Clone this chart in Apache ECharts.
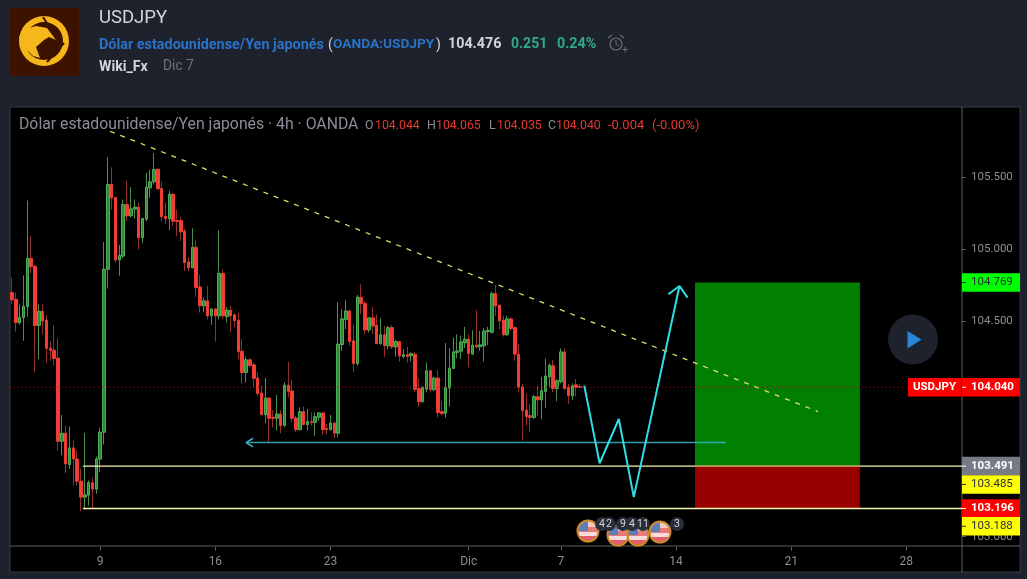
<!DOCTYPE html>
<html>
<head>
<meta charset="utf-8">
<title>USDJPY</title>
<script src="https://cdn.jsdelivr.net/npm/echarts@6/dist/echarts.min.js"></script>
<style>
  html, body { margin: 0; padding: 0; background: #1e222d; }
  #main { width: 1027px; height: 579px; }
</style>
</head>
<body>
<div id="main"></div>
<script>
// velas de 4h
var opens = [104.699,104.652,104.490,104.525,104.602,104.937,104.882,104.470,104.569,104.507,104.312,104.298,104.243,103.664,103.720,103.502,103.618,103.541,103.386,103.275,103.289,103.375,103.331,103.539,103.727,104.861,105.451,105.361,104.926,104.953,105.312,105.233,105.280,105.294,105.081,105.210,105.428,105.470,105.558,105.423,105.229,105.213,105.384,105.201,105.201,105.127,104.912,104.872,105.014,104.738,104.606,104.641,104.537,104.585,104.537,104.833,104.532,104.576,104.544,104.507,104.291,104.143,104.231,104.196,104.104,104.000,103.849,103.965,103.831,103.824,103.854,103.773,104.055,104.014,103.826,103.745,103.870,103.780,103.801,103.796,103.831,103.861,103.752,103.745,103.791,103.720,104.337,104.511,104.571,104.363,104.205,104.666,104.624,104.439,104.523,104.472,104.344,104.405,104.328,104.455,104.321,104.358,104.254,104.266,104.259,104.270,104.030,103.939,104.027,104.155,104.023,104.104,103.870,103.858,104.034,104.171,104.282,104.291,104.349,104.374,104.270,104.333,104.321,104.328,104.428,104.423,104.692,104.611,104.506,104.405,104.516,104.456,104.270,104.043,103.881,103.842,103.830,103.974,103.951,104.011,104.113,104.189,104.032,104.078,104.286,104.039,103.981,104.057,104.044];
var closes = [104.648,104.490,104.527,104.604,104.937,104.879,104.470,104.569,104.502,104.310,104.296,104.240,103.664,103.720,103.507,103.618,103.541,103.386,103.275,103.291,103.377,103.331,103.541,103.727,104.861,105.451,105.358,104.926,104.958,105.312,105.233,105.282,105.294,105.081,105.215,105.433,105.470,105.555,105.421,105.227,105.213,105.384,105.196,105.194,105.122,104.907,104.872,105.014,104.733,104.608,104.641,104.537,104.585,104.537,104.833,104.537,104.576,104.537,104.504,104.289,104.143,104.231,104.192,104.102,103.997,103.849,103.965,103.824,103.824,103.854,103.773,104.055,104.011,103.824,103.745,103.870,103.780,103.801,103.796,103.835,103.861,103.745,103.745,103.791,103.720,104.340,104.516,104.571,104.358,104.205,104.668,104.622,104.439,104.523,104.467,104.344,104.405,104.330,104.455,104.321,104.358,104.259,104.266,104.254,104.275,104.025,103.939,104.039,104.155,104.023,104.104,103.863,103.856,104.039,104.173,104.286,104.293,104.356,104.374,104.275,104.333,104.321,104.335,104.432,104.437,104.692,104.606,104.502,104.405,104.516,104.449,104.270,104.039,103.877,103.835,103.830,103.974,103.953,104.016,104.118,104.194,104.032,104.085,104.286,104.032,103.981,104.050,104.039,104.040];
var lows = [104.618,104.428,104.474,104.363,104.532,104.831,104.143,104.236,104.409,104.213,104.224,104.190,103.599,103.564,103.442,103.472,103.356,103.356,103.178,103.189,103.217,103.194,103.298,103.449,103.641,104.727,105.277,104.907,104.817,104.937,105.196,105.224,105.215,105.000,105.046,105.196,105.358,105.451,105.416,105.196,105.178,105.134,105.162,105.092,105.058,104.849,104.849,104.868,104.669,104.560,104.564,104.514,104.474,104.358,104.514,104.514,104.490,104.421,104.456,104.236,104.067,104.074,104.178,104.039,103.981,103.845,103.789,103.657,103.761,103.738,103.720,103.766,103.970,103.796,103.727,103.738,103.773,103.738,103.773,103.703,103.808,103.710,103.715,103.738,103.685,103.692,104.293,104.444,104.328,104.143,104.189,104.548,104.409,104.421,104.409,104.340,104.335,104.252,104.305,104.305,104.252,104.219,104.243,104.212,104.219,104.004,103.905,103.935,104.004,104.004,104.011,103.830,103.849,103.826,103.905,104.166,104.243,104.236,104.312,104.178,104.266,104.312,104.293,104.219,104.335,104.414,104.537,104.444,104.393,104.398,104.432,104.224,104.004,103.668,103.773,103.731,103.819,103.842,103.819,103.895,104.039,104.004,103.942,104.067,104.020,103.923,103.951,103.974,104.035];
var highs = [104.803,104.699,104.618,104.819,105.340,105.092,104.890,104.618,104.618,104.544,104.363,104.472,104.382,103.847,103.773,103.766,103.669,103.604,103.472,103.722,103.391,103.409,103.558,103.757,105.051,105.641,105.571,105.365,105.030,105.347,105.479,105.433,105.347,105.324,105.220,105.534,105.555,105.669,105.560,105.470,105.324,105.409,105.390,105.277,105.224,105.146,104.946,105.146,105.069,104.821,104.664,104.745,104.590,104.590,105.134,104.861,104.599,104.606,104.553,104.560,104.375,104.252,104.243,104.213,104.143,104.051,104.104,103.970,103.882,103.986,103.882,104.074,104.217,104.092,103.842,103.900,103.907,103.889,103.865,103.865,103.866,103.866,103.784,103.847,103.796,104.632,104.583,104.645,104.583,104.474,104.682,104.756,104.641,104.525,104.599,104.548,104.520,104.467,104.467,104.472,104.368,104.362,104.305,104.321,104.282,104.286,104.104,104.050,104.212,104.160,104.113,104.160,103.946,104.347,104.312,104.386,104.409,104.398,104.460,104.409,104.437,104.576,104.432,104.451,104.460,104.706,104.752,104.618,104.537,104.537,104.525,104.460,104.340,104.062,103.997,103.923,103.988,104.050,104.113,104.240,104.205,104.229,104.097,104.310,104.310,104.062,104.067,104.097,104.065];

// eje de tiempo (una franja por vela, festivos incluidos)
var slotCount = 248;
var tickSlots = [23, 53, 83, 119, 143, 173, 203, 233];
var tickTexts = ['9', '16', '23', 'Dic', '7', '14', '21', '28'];
var priceTicks = [103, 103.5, 104, 104.5, 105, 105.5];

// precios de la posicion larga
var lastPrice = 104.040;
var targetPrice = 104.769;
var entryPrice = 103.491;
var stopPrice = 103.196;

// dibujos (franja, precio)
var trendLine = [[26.05, 105.822], [210.5, 103.870]];
var targetLevel = [[61.5, 103.655], [186.5, 103.655]];
var targetHead = [[63.3, 103.685], [61.5, 103.655], [63.3, 103.625]];
var zigzag = [[149.6, 104.051], [153.6, 103.511], [158.6, 103.819], [162.5, 103.275], [174.4, 104.745]];
var zigzagHead = [[171.5, 104.687], [174.4, 104.745], [176.5, 104.664]];

// etiquetas de la escala de precios
var tagPrices = [104.769, 104.040, 103.491, 103.363, 103.196, 103.072];
var tagTexts = ['104.769', '104.040', '103.491', '103.485', '103.196', '103.188'];
var tagFills = ['#00ff00', '#ff0000', '#787b86', '#ffff00', '#ff0000', '#ffff00'];
var tagInks = ['#2a2e39', '#ffffff', '#ffffff', '#2a2e39', '#ffffff', '#2a2e39'];

var font = 'Roboto, sans-serif';
var chart = echarts.init(document.getElementById('main'));

var categories = [];
for (var s = 0; s < slotCount; s++) {
  var at = tickSlots.indexOf(s);
  categories.push(at >= 0 ? tickTexts[at] : '');
}

function drawing(points, color, width, extra) {
  return {
    type: 'line', xAxisIndex: 1, yAxisIndex: 0, data: points, showSymbol: false, silent: true,
    z: 5, animation: false,
    lineStyle: Object.assign({ color: color, width: width }, extra || {})
  };
}

function txt(x, y, text, color, size, weight, align) {
  return {
    type: 'text', x: x, y: y, z: 50, silent: true,
    style: { text: text, fill: color, font: (weight || 'normal') + ' ' + size + 'px ' + font, textVerticalAlign: 'middle', textAlign: align || 'left' }
  };
}

function flag(cx, cy) {
  return [
    { type: 'circle', z: 30, silent: true, shape: { cx: cx, cy: cy, r: 10.5 },
      style: { stroke: '#c98a25', lineWidth: 2,
        fill: new echarts.graphic.LinearGradient(0, 0, 0, 1, [
          { offset: 0, color: '#f6c9c9' }, { offset: 0.33, color: '#f6c9c9' },
          { offset: 0.33, color: '#e87a7a' }, { offset: 0.55, color: '#e87a7a' },
          { offset: 0.55, color: '#f7dcdc' }, { offset: 0.72, color: '#f7dcdc' },
          { offset: 0.72, color: '#e0606a' }, { offset: 1, color: '#e0606a' }]) } },
    { type: 'sector', z: 31, silent: true, shape: { cx: cx, cy: cy, r: 9.5, r0: 0, startAngle: Math.PI, endAngle: Math.PI * 1.5 },
      style: { fill: '#5d7fb8' } }
  ];
}

function bubble(cx, text) {
  return [
    { type: 'circle', z: 32, silent: true, shape: { cx: cx, cy: 524, r: 7 }, style: { fill: '#2a2e39' } },
    Object.assign(txt(cx, 524, text, '#d1d4dc', 10.5, 'normal', 'center'), { z: 33 })
  ];
}

var graphics = [
  // marco
  { type: 'rect', z: -10, silent: true, shape: { x: 10, y: 107, width: 1010, height: 465 }, style: { fill: '#000000', stroke: '#363a45', lineWidth: 1 } },
  { type: 'line', z: 1, silent: true, shape: { x1: 962, y1: 107, x2: 962, y2: 572 }, style: { stroke: '#5d606b', lineWidth: 1 } },
  { type: 'line', z: 1, silent: true, shape: { x1: 10, y1: 546, x2: 1020, y2: 546 }, style: { stroke: '#5d606b', lineWidth: 1 } },
  // logo
  { type: 'rect', z: 20, silent: true, shape: { x: 10, y: 8, width: 69, height: 68 }, style: { fill: '#3d1300' } },
  { type: 'ring', z: 21, silent: true, shape: { cx: 44, cy: 41, r: 25, r0: 19 }, style: { fill: '#f5b71a' } },
  { type: 'polygon', z: 22, silent: true, shape: { points: [[22, 30], [36, 26], [47, 28], [56, 40], [49, 37], [44, 40], [36, 47], [40, 58], [33, 56], [25, 48], [19, 38]] }, style: { fill: '#f5b71a' } },
  { type: 'line', z: 23, silent: true, shape: { x1: 43, y1: 17, x2: 60, y2: 44 }, style: { stroke: '#3d1300', lineWidth: 2 } },
  { type: 'line', z: 23, silent: true, shape: { x1: 47, y1: 62, x2: 64, y2: 43 }, style: { stroke: '#3d1300', lineWidth: 2 } },
  // cabecera
  txt(99, 18, 'USDJPY', '#d1d4dc', 18.5),
  txt(99, 45, 'Dólar estadounidense/Yen japonés', '#2a72c8', 14.4, 'bold'),
  txt(328, 45, '(', '#d1d4dc', 14),
  txt(333, 45, 'OANDA:USDJPY', '#2a72c8', 13.7, 'bold'),
  txt(436, 45, ')', '#d1d4dc', 14),
  txt(448, 44, '104.476', '#d1d4dc', 14.3, 'bold'),
  txt(511, 44, '0.251', '#2fa98c', 14, 'bold'),
  txt(557, 44, '0.24%', '#2fa98c', 14.3, 'bold'),
  { type: 'circle', z: 20, silent: true, shape: { cx: 616, cy: 44, r: 6 }, style: { fill: 'none', stroke: '#6a6d78', lineWidth: 1.2 } },
  { type: 'polyline', z: 20, silent: true, shape: { points: [[616, 40], [616, 44], [619, 46]] }, style: { fill: 'none', stroke: '#6a6d78', lineWidth: 1 } },
  { type: 'line', z: 20, silent: true, shape: { x1: 608, y1: 38, x2: 612, y2: 35 }, style: { stroke: '#6a6d78', lineWidth: 1.2 } },
  { type: 'line', z: 20, silent: true, shape: { x1: 620, y1: 35, x2: 624, y2: 38 }, style: { stroke: '#6a6d78', lineWidth: 1.2 } },
  txt(622, 50, '+', '#6a6d78', 11),
  txt(99, 67, 'Wiki_Fx', '#d1d4dc', 14.2, 'bold'),
  txt(163, 67, 'Dic 7', '#6f727c', 13.8),
  // leyenda del grafico
  txt(19, 125, 'Dólar estadounidense/Yen japonés · 4h · OANDA', '#8a8d96', 15.8),
  txt(365, 126, 'O', '#8a8d96', 12.3),
  txt(375, 126, '104.044', '#e5392f', 12.3),
  txt(427, 126, 'H', '#8a8d96', 12.3),
  txt(436, 126, '104.065', '#e5392f', 12.3),
  txt(489, 126, 'L', '#8a8d96', 12.3),
  txt(497, 126, '104.035', '#e5392f', 12.3),
  txt(548, 126, 'C', '#8a8d96', 12.3),
  txt(556, 126, '104.040', '#e5392f', 12.3),
  txt(608, 126, '-0.004', '#e5392f', 13),
  txt(652, 126, '(-0.00%)', '#e5392f', 13),
  // boton de reproduccion
  { type: 'circle', z: 40, silent: true, shape: { cx: 913, cy: 339.5, r: 25 }, style: { fill: '#1e222d' } },
  { type: 'polygon', z: 41, silent: true, shape: { points: [[907.5, 331], [907.5, 348.5], [921.5, 339.5]] }, style: { fill: '#2a84d8' } }
];
graphics = graphics
  .concat(flag(588, 531), flag(618, 535), flag(638, 535), flag(660, 532))
  .concat(bubble(602, '4'), bubble(609, '2'), bubble(623, '9'), bubble(632, '4'), bubble(643, '11'), bubble(677, '3'));

// mechas apagadas debajo, cuerpos vivos encima
var candleData = opens.map(function (o, i) { return [o, closes[i], lows[i], highs[i]]; });
var bodyData = opens.map(function (o, i) { return [o, closes[i], Math.min(o, closes[i]), Math.max(o, closes[i])]; });
var tagData = tagPrices.map(function (p, i) { return [0, p, i]; });

var option = {
  backgroundColor: '#1e222d',
  animation: false,
  textStyle: { fontFamily: font },
  graphic: { elements: graphics },
  grid: { left: 10, right: 65, top: 108.7, bottom: 32.3 },
  xAxis: [{
    type: 'category', data: categories, boundaryGap: true,
    axisLine: { show: false, onZero: false },
    axisTick: { show: true, length: 4, alignWithLabel: true, interval: function (i, v) { return v !== ''; }, lineStyle: { color: '#5d606b' } },
    axisLabel: { interval: function (i, v) { return v !== ''; }, color: '#8a8d96', fontSize: 12, margin: 9, hideOverlap: false },
    splitLine: { show: false }
  }, {
    type: 'value', min: 0, max: slotCount, show: false, splitLine: { show: false }
  }],
  yAxis: [{
    type: 'value', position: 'right', min: 102.93, max: 105.979, scale: true,
    axisLine: { show: false, onZero: false },
    axisTick: { show: true, length: 4, customValues: priceTicks, lineStyle: { color: '#5d606b' } },
    axisLabel: { customValues: priceTicks, color: '#8a8d96', fontSize: 11.5, margin: 9, formatter: function (v) { return v.toFixed(3); } },
    splitLine: { show: false }
  }],
  series: [
    // posicion larga
    { type: 'line', xAxisIndex: 1, yAxisIndex: 0, data: [], z: 1, silent: true,
      markArea: { silent: true, data: [
        [{ xAxis: 178.45, yAxis: entryPrice, itemStyle: { color: '#007f00' } }, { xAxis: 221.4, yAxis: targetPrice }],
        [{ xAxis: 178.45, yAxis: stopPrice, itemStyle: { color: '#990000' } }, { xAxis: 221.4, yAxis: entryPrice }]
      ] } },
    drawing([[0, lastPrice], [slotCount, lastPrice]], '#8b1d1d', 1, { type: [1, 3] }),
    drawing([[19, entryPrice], [slotCount, entryPrice]], '#f5f5b0', 1.3),
    drawing([[178.45, entryPrice], [221.4, entryPrice]], '#a98a45', 1.5),
    drawing([[19, stopPrice], [slotCount, stopPrice]], '#f5f5b0', 1.3),
    {
      type: 'candlestick', xAxisIndex: 0, yAxisIndex: 0, data: candleData, barWidth: 1, z: 3, silent: true,
      itemStyle: { color: '#4a8f4c', color0: '#93302c', borderColor: '#4a8f4c', borderColor0: '#93302c', borderWidth: 1 }
    },
    {
      type: 'candlestick', xAxisIndex: 0, yAxisIndex: 0, data: bodyData, barWidth: 3, z: 4, silent: true,
      itemStyle: { color: '#2f8a36', color0: '#f23f36', borderColor: '#4fae55', borderColor0: '#ee3b33', borderWidth: 1 }
    },
    drawing(trendLine, '#dede66', 1.3, { type: [5, 6] }),
    drawing(targetLevel, '#35b8c4', 1.5, { opacity: 0.85 }),
    drawing(targetHead, '#35b8c4', 1.5),
    drawing(zigzag, '#2fdfe6', 2),
    drawing(zigzagHead, '#2fdfe6', 2),
    {
      type: 'custom', xAxisIndex: 1, yAxisIndex: 0, data: tagData, z: 10, silent: true, clip: false,
      encode: { x: 0, y: 1 },
      renderItem: function (params, api) {
        var i = api.value(2);
        var y = api.coord([0, api.value(1)])[1];
        var kids = [
          { type: 'rect', shape: { x: 962, y: y - 9.25, width: 58, height: 18.5 }, style: { fill: tagFills[i] } },
          { type: 'line', shape: { x1: 962, y1: y, x2: 966, y2: y }, style: { stroke: tagInks[i], lineWidth: 1 } },
          { type: 'text', x: 971, y: y, style: { text: tagTexts[i], fill: tagInks[i], font: (tagInks[i] === '#ffffff' ? 'bold ' : '') + '11.5px ' + font, textVerticalAlign: 'middle' } }
        ];
        if (i === 1) {
          kids.push({ type: 'rect', shape: { x: 908, y: y - 9.25, width: 53, height: 18.5 }, style: { fill: '#ff0000' } });
          kids.push({ type: 'text', x: 934.5, y: y, style: { text: 'USDJPY', fill: '#ffffff', font: 'bold 11.5px ' + font, textAlign: 'center', textVerticalAlign: 'middle' } });
        }
        return { type: 'group', children: kids };
      }
    }
  ]
};
chart.setOption(option);
</script>
</body>
</html>
